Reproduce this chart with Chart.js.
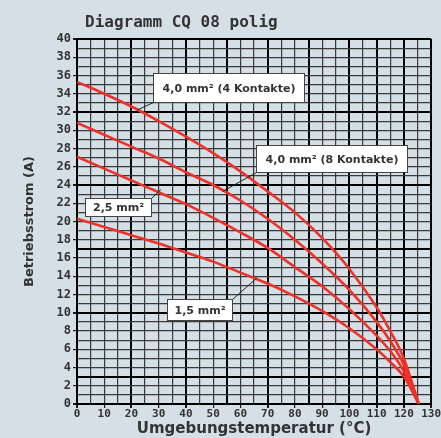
<!DOCTYPE html>
<html><head><meta charset="utf-8">
<script src="https://cdn.jsdelivr.net/npm/chart.js@4"></script>
<style>html,body{margin:0;padding:0;background:#d4dfe6;}canvas{display:block;}</style>
</head><body>
<canvas id="c" width="441" height="438"></canvas>
<script>
// ---- data ----
const temperatures = [0, 10, 20, 30, 40, 50, 60, 70, 80, 90, 100, 110, 115, 120, 125.5];
const current4mm4K = [35.3, 34.0, 32.6, 31.0, 29.3, 27.5, 25.5, 23.3, 21.0, 18.2, 14.8, 10.6, 8.0, 5.0, 0];
const current4mm8K = [30.8, 29.5, 28.2, 26.9, 25.4, 24.0, 22.3, 20.3, 18.0, 15.4, 12.5, 9.0, 6.9, 4.3, 0];
const current25mm  = [27.1, 25.8, 24.5, 23.2, 21.9, 20.4, 18.8, 17.1, 15.0, 12.9, 10.4, 7.5, 5.8, 3.6, 0];
const current15mm  = [20.3, 19.4, 18.5, 17.6, 16.6, 15.6, 14.4, 13.2, 11.8, 10.2, 8.3, 6.0, 4.6, 3.0, 0];
const seriesNames = ['4,0 mm² (4 Kontakte)', '4,0 mm² (8 Kontakte)', '2,5 mm²', '1,5 mm²'];
const xTickLabels = [0, 10, 20, 30, 40, 50, 60, 70, 80, 90, 100, 110, 120, 130];
const yTickLabels = [0, 2, 4, 6, 8, 10, 12, 14, 16, 18, 20, 22, 24, 26, 28, 30, 32, 34, 36, 38, 40];
const chartTitle = 'Diagramm CQ 08 polig';
const xTitle = 'Umgebungstemperatur (°C)';
const yTitle = 'Betriebsstrom (A)';

// callout boxes (data units): box = [left, top, right, bottom], leader from a box corner to a point on the curve
const callouts = [
  {text: seriesNames[0], box: [27.8, 36.3, 83.5, 33.1], from: 'bl', to: [22, 32.2]},
  {text: seriesNames[1], box: [65.9, 28.4, 121.2, 25.4], from: 'bl', to: [53.5, 23.3]},
  {text: seriesNames[2], box: [2.9, 22.6, 27.1, 20.6], from: 'tr', to: [30.8, 23.5]},
  {text: seriesNames[3], box: [33.0, 11.5, 56.8, 9.2], from: 'tr', to: [66, 13.8]}
];
// grid lines that look heavier in the reference
const heavyX = [0, 20, 40, 55, 70, 85, 100, 110, 120, 130];
const heavyY = [0, 3, 10, 17, 24, 32, 40];

const allSeries = [current4mm4K, current4mm8K, current25mm, current15mm];
const RED = '#ee3129';
const datasets = allSeries.map((vals, i) => ({
  label: seriesNames[i],
  data: temperatures.map((t, k) => ({x: t, y: vals[k]})),
  borderColor: RED,
  borderWidth: 2.6,
  pointRadius: 0,
  fill: false,
  cubicInterpolationMode: 'monotone'
}));

const TICK_FONT = {family: 'DejaVu Sans Mono', size: 11, weight: 'bold'};
const TXT = '#333333';

const overlay = {
  id: 'overlay',
  afterDatasetsDraw(chart) {
    const {ctx, scales: {x, y}} = chart;
    ctx.save();
    ctx.font = 'bold 11px "DejaVu Sans"';
    ctx.textBaseline = 'middle';
    callouts.forEach(c => {
      const l = Math.round(x.getPixelForValue(c.box[0])) + 0.5;
      const t = Math.round(y.getPixelForValue(c.box[1])) + 0.5;
      const r = Math.round(x.getPixelForValue(c.box[2])) + 0.5;
      const b = Math.round(y.getPixelForValue(c.box[3])) + 0.5;
      const sx = c.from === 'bl' ? l : r;
      const sy = c.from === 'bl' ? b : t;
      ctx.strokeStyle = '#222';
      ctx.lineWidth = 1;
      ctx.beginPath();
      ctx.moveTo(sx, sy);
      ctx.lineTo(x.getPixelForValue(c.to[0]), y.getPixelForValue(c.to[1]));
      ctx.stroke();
      ctx.fillStyle = '#ffffff';
      ctx.fillRect(l, t, r - l, b - t);
      ctx.strokeStyle = '#444';
      ctx.strokeRect(l, t, r - l, b - t);
      ctx.fillStyle = TXT;
      ctx.textAlign = 'center';
      ctx.fillText(c.text, (l + r) / 2, (t + b) / 2 + 1);
    });
    ctx.restore();
  },
  afterDraw(chart) {
    const {ctx} = chart;
    ctx.save();
    ctx.font = 'bold 16px "DejaVu Sans Mono"';
    ctx.fillStyle = TXT;
    ctx.textAlign = 'left';
    ctx.textBaseline = 'alphabetic';
    ctx.fillText(chartTitle, 85, 27);
    ctx.restore();
  }
};

const val = c => (c.tick ? c.tick.value : NaN);

new Chart(document.getElementById('c'), {
  type: 'line',
  data: {datasets},
  options: {
    responsive: false,
    animation: false,
    devicePixelRatio: 1,
    layout: {padding: {top: 39, right: 0, bottom: 0, left: 0}},
    plugins: {legend: {display: false}, tooltip: {enabled: false}, title: {display: false}},
    scales: {
      x: {
        type: 'linear', min: 0, max: 130,
        afterFit(s) { s.height = 34; },
        afterBuildTicks(s) { s.ticks = []; for (let v = 0; v <= 130; v += 5) s.ticks.push({value: v}); },
        ticks: {
          autoSkip: false, maxRotation: 0, color: TXT, font: TICK_FONT, padding: 0,
          callback: v => xTickLabels.includes(v) ? String(v) : ''
        },
        grid: {
          color: c => heavyX.includes(val(c)) ? '#000' : '#3a3a3a',
          lineWidth: c => heavyX.includes(val(c)) ? 2 : 1.2,
          tickLength: 4,
          tickColor: c => (val(c) % 10 === 0) ? '#1a1a1a' : 'rgba(0,0,0,0)'
        },
        border: {color: '#000', width: 2},
        title: {display: true, text: xTitle, color: TXT, font: {family: 'DejaVu Sans', size: 15, weight: 'bold'}, padding: {top: 0, bottom: 0}}
      },
      y: {
        type: 'linear', min: 0, max: 40,
        afterFit(s) { s.width = 77; },
        afterBuildTicks(s) { s.ticks = []; for (let v = 0; v <= 40; v += 1) s.ticks.push({value: v}); },
        ticks: {
          autoSkip: false, color: TXT, font: {family: 'DejaVu Sans Mono', size: 12, weight: 'bold'}, padding: 2,
          callback: v => yTickLabels.includes(v) ? String(v) : ''
        },
        grid: {
          color: c => heavyY.includes(val(c)) ? '#000' : '#3a3a3a',
          lineWidth: c => heavyY.includes(val(c)) ? 2 : 1.2,
          tickLength: 4,
          tickColor: c => (val(c) % 2 === 0) ? '#1a1a1a' : 'rgba(0,0,0,0)'
        },
        border: {color: '#000', width: 2},
        title: {display: true, text: yTitle, color: TXT, font: {family: 'DejaVu Sans', size: 13, weight: 'bold'}, padding: {top: 22, bottom: 0}}
      }
    }
  },
  plugins: [overlay]
});
</script>
</body></html>
